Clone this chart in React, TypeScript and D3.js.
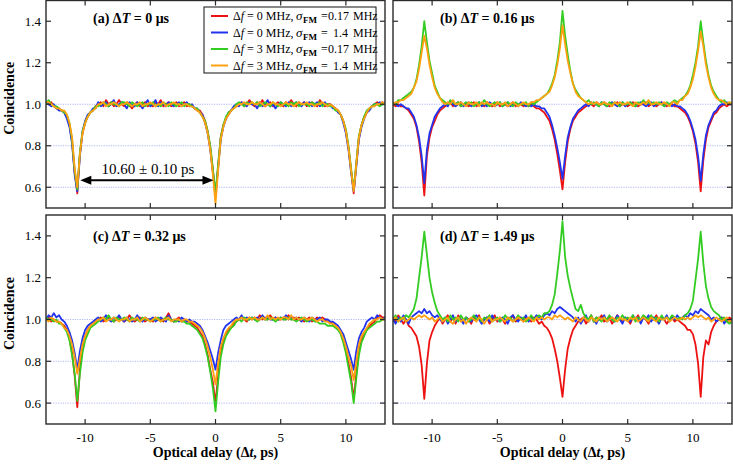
import React from 'react';
import * as d3 from 'd3';

const W = 733;
const H = 465;
const FONT = "'Liberation Serif', 'Times New Roman', serif";

// Optical delay grid (ps), 0.2 ps sampling from -13 to 13
const delay: number[] = d3.range(131).map((i) => +(-13 + 0.2 * i).toFixed(1));

const yTicks = [0.6, 0.8, 1.0, 1.2, 1.4];
const yTickLabels = ['0.6', '0.8', '1.0', '1.2', '1.4'];
const xTicks = [-10, -5, 0, 5, 10];
const xTickLabels = ['-10', '-5', '0', '5', '10'];
const gridValues = [0.6, 0.8, 1.0];

const seriesColors = ['#ee1111', '#2233ee', '#33cc22', '#ffa010'];
const legendDf = ['0', '0', '3', '3'];
const legendSigma = ['0.17', '1.4', '0.17', '1.4'];
const panelLetters = ['a', 'b', 'c', 'd'];
const panelDT = ['0', '0.16', '0.32', '1.49'];

// ---- panel (a) ΔT = 0 µs ----
const aRed = [
  1.01,1.00,1.01,0.99,0.98,0.98,0.97,0.96,0.94,0.90,
  0.82,0.67,0.57,0.76,0.86,0.91,0.94,0.96,0.97,0.99,
  1.00,1.01,0.99,1.02,1.00,1.01,0.99,1.00,1.02,1.00,
  0.99,1.01,1.00,0.98,1.00,1.01,0.99,1.00,1.01,0.99,
  1.00,0.99,1.01,1.00,1.02,0.99,1.00,1.01,0.99,1.00,
  1.01,0.99,1.00,1.01,0.99,1.00,0.99,0.98,0.97,0.97,
  0.95,0.92,0.87,0.79,0.68,0.55,0.70,0.84,0.90,0.93,
  0.95,0.97,0.98,0.99,1.00,1.01,0.99,1.00,1.02,1.00,
  0.99,1.01,1.00,1.02,0.99,1.00,1.01,0.99,1.00,1.01,
  1.00,0.99,1.01,1.00,1.02,1.00,0.99,1.01,1.00,1.01,
  0.99,1.00,1.01,1.00,0.99,1.02,1.00,0.99,1.00,1.00,
  0.99,0.98,0.97,0.95,0.92,0.87,0.79,0.68,0.57,0.71,
  0.84,0.90,0.94,0.96,0.98,0.99,1.00,1.01,1.00,1.01,
  1.00,
];
const aBlue = [
  1.01,1.00,0.99,1.00,0.98,0.97,0.97,0.96,0.93,0.89,
  0.81,0.66,0.58,0.75,0.87,0.92,0.95,0.96,0.98,0.98,
  1.01,0.99,1.00,1.01,0.99,1.00,1.02,0.99,1.00,1.01,
  1.00,0.98,1.01,1.00,0.99,1.01,1.00,0.98,1.00,1.02,
  0.99,1.00,1.02,0.99,1.01,1.00,0.99,1.01,1.00,0.99,
  1.00,1.01,0.99,1.00,1.01,0.99,1.00,0.98,0.98,0.96,
  0.95,0.91,0.86,0.78,0.67,0.57,0.69,0.83,0.89,0.93,
  0.96,0.97,0.99,1.00,0.99,1.01,1.00,0.99,1.01,1.00,
  1.00,0.98,1.01,0.99,1.00,1.02,0.99,1.00,0.98,1.00,
  1.01,1.00,0.99,1.01,0.99,1.00,1.01,1.00,0.99,1.01,
  1.00,1.01,0.99,1.00,1.01,0.99,1.00,1.01,0.99,1.00,
  0.98,0.98,0.96,0.95,0.91,0.86,0.78,0.67,0.58,0.70,
  0.83,0.89,0.93,0.96,0.97,0.99,1.00,1.00,1.01,1.00,
  1.01,
];
const aGreen = [
  1.00,1.02,1.00,0.99,0.99,0.98,0.97,0.96,0.95,0.91,
  0.83,0.68,0.59,0.77,0.87,0.91,0.94,0.96,0.97,0.99,
  0.99,1.00,1.01,1.00,0.99,1.01,1.00,1.00,0.99,1.01,
  1.01,1.00,0.99,1.01,1.00,0.99,1.00,1.01,0.99,1.00,
  1.00,1.01,0.99,1.00,0.99,1.01,1.00,0.99,1.01,1.00,
  0.99,1.00,1.01,0.99,1.00,1.00,0.99,0.98,0.98,0.96,
  0.94,0.92,0.87,0.80,0.69,0.57,0.71,0.84,0.90,0.94,
  0.96,0.97,0.98,1.00,1.01,1.00,0.99,1.01,1.00,1.01,
  1.00,1.01,0.99,1.00,1.01,1.00,0.99,1.01,1.00,0.99,
  1.01,1.00,1.00,0.99,1.01,1.00,1.01,0.99,1.00,1.00,
  1.00,0.99,1.01,1.00,1.00,1.01,0.99,1.00,1.00,0.99,
  0.99,0.97,0.97,0.95,0.92,0.88,0.80,0.69,0.59,0.72,
  0.85,0.90,0.94,0.97,0.98,0.99,1.00,1.00,0.99,1.00,
  1.00,
];
const aOrange = [
  1.01,1.01,1.00,0.99,0.98,0.98,0.97,0.97,0.95,0.91,
  0.84,0.69,0.60,0.76,0.86,0.91,0.94,0.96,0.97,0.98,
  1.00,1.00,1.01,0.99,1.00,1.00,1.01,1.00,0.99,1.00,
  1.00,1.01,1.00,0.99,1.00,1.00,1.01,0.99,1.00,1.00,
  1.01,1.00,0.99,1.00,1.00,1.01,0.99,1.00,1.00,1.01,
  1.00,1.00,0.99,1.00,1.00,0.99,0.99,0.98,0.97,0.96,
  0.94,0.91,0.86,0.78,0.66,0.52,0.68,0.83,0.89,0.93,
  0.95,0.97,0.98,0.99,1.00,1.00,1.01,1.00,1.00,1.01,
  1.00,1.00,1.01,1.00,0.99,1.00,1.00,1.01,1.00,1.00,
  0.99,1.00,1.01,1.00,1.00,0.99,1.00,1.01,1.00,1.00,
  1.01,1.00,1.00,0.99,1.00,1.00,1.01,1.00,0.99,1.00,
  0.99,0.98,0.97,0.95,0.92,0.87,0.79,0.68,0.58,0.71,
  0.84,0.90,0.93,0.96,0.98,0.99,0.99,1.00,1.00,1.01,
  1.00,
];

// ---- panel (b) ΔT = 0.16 µs ----
const bRed = [
  1.00,0.99,1.00,0.99,0.99,0.98,0.97,0.95,0.93,0.89,
  0.82,0.72,0.56,0.75,0.84,0.89,0.92,0.95,0.97,0.98,
  0.99,1.00,1.01,0.99,1.00,1.01,0.99,1.00,1.00,0.99,
  1.00,1.01,0.99,1.00,1.00,0.99,1.01,1.00,0.99,1.00,
  1.01,0.99,1.00,1.00,0.99,1.00,1.01,0.99,1.00,1.00,
  0.99,1.00,0.99,1.00,0.99,0.98,0.98,0.97,0.96,0.94,
  0.92,0.88,0.83,0.76,0.68,0.59,0.72,0.82,0.88,0.92,
  0.94,0.96,0.97,0.98,0.99,1.00,1.00,0.99,1.01,1.00,
  1.00,1.01,1.00,0.99,1.00,1.00,1.01,0.99,1.00,1.00,
  0.99,1.00,1.01,1.00,0.99,1.00,1.00,1.01,0.99,1.00,
  1.00,0.99,1.00,1.01,1.00,0.99,1.00,1.00,0.99,0.99,
  0.98,0.97,0.96,0.94,0.91,0.87,0.81,0.72,0.58,0.73,
  0.83,0.89,0.92,0.95,0.96,0.98,0.99,1.00,0.99,1.00,
  1.00,
];
const bBlue = [
  1.01,1.00,0.99,1.00,0.99,0.98,0.98,0.96,0.94,0.90,
  0.84,0.75,0.62,0.78,0.86,0.90,0.94,0.96,0.98,0.99,
  1.00,0.99,1.01,1.00,0.99,1.00,1.01,0.99,1.00,1.01,
  0.99,1.00,1.00,1.01,0.99,1.00,0.99,1.01,1.00,0.99,
  1.00,1.01,0.99,1.00,1.01,0.99,1.00,1.00,0.99,1.01,
  1.00,0.99,1.00,0.99,1.00,0.99,0.99,0.98,0.98,0.96,
  0.94,0.90,0.85,0.79,0.72,0.64,0.75,0.84,0.89,0.93,
  0.95,0.97,0.98,0.99,1.00,0.99,1.01,1.00,1.00,0.99,
  1.01,1.00,0.99,1.00,1.01,1.00,0.99,1.00,1.01,0.99,
  1.00,1.01,1.00,0.99,1.00,1.01,1.00,0.99,1.00,1.01,
  0.99,1.00,1.00,1.01,0.99,1.00,1.00,0.99,1.00,0.99,
  0.99,0.98,0.97,0.95,0.92,0.88,0.83,0.75,0.63,0.76,
  0.85,0.90,0.93,0.96,0.97,0.99,1.00,1.00,1.01,1.00,
  1.00,
];
const bGreen = [
  1.01,1.00,1.02,1.02,1.03,1.04,1.05,1.06,1.08,1.12,
  1.19,1.28,1.40,1.30,1.21,1.15,1.09,1.06,1.03,1.02,
  1.01,1.00,1.02,1.01,1.00,1.01,0.99,1.00,1.01,1.00,
  1.01,0.99,1.00,1.01,1.00,1.02,1.00,0.99,1.00,1.01,
  1.00,1.01,0.99,1.00,1.01,1.00,0.99,1.01,1.00,1.00,
  1.00,1.01,0.99,1.01,1.00,1.01,1.02,1.03,1.04,1.05,
  1.07,1.10,1.14,1.21,1.30,1.45,1.33,1.24,1.16,1.10,
  1.07,1.05,1.03,1.02,1.01,1.02,1.00,1.01,1.00,0.99,
  1.01,1.00,0.99,1.01,1.00,1.01,1.00,0.99,1.01,1.00,
  1.00,1.01,1.00,0.99,1.01,1.00,1.02,1.00,1.01,1.00,
  1.01,1.00,1.01,1.00,0.99,1.01,1.00,1.01,1.02,1.01,
  1.02,1.03,1.04,1.06,1.09,1.14,1.20,1.28,1.40,1.30,
  1.21,1.14,1.09,1.06,1.04,1.02,1.01,1.02,1.00,1.01,
  1.00,
];
const bOrange = [
  1.00,1.01,1.01,1.02,1.02,1.03,1.04,1.05,1.08,1.11,
  1.17,1.25,1.33,1.27,1.19,1.13,1.08,1.05,1.03,1.01,
  1.00,1.01,1.00,1.02,1.00,1.00,1.01,1.00,0.99,1.01,
  1.00,1.00,1.01,0.99,1.01,1.00,1.01,1.00,1.00,0.99,
  1.01,1.00,1.00,1.01,0.99,1.00,1.01,1.00,0.99,1.00,
  1.01,1.00,1.00,1.01,1.01,1.02,1.02,1.03,1.04,1.05,
  1.06,1.09,1.13,1.19,1.27,1.38,1.29,1.21,1.15,1.10,
  1.06,1.04,1.03,1.02,1.01,1.00,1.01,1.00,1.01,1.00,
  1.00,1.01,1.00,1.00,0.99,1.01,1.00,1.01,1.00,1.00,
  1.01,1.00,0.99,1.01,1.00,1.00,1.01,1.00,1.02,1.00,
  1.00,1.01,1.00,1.00,1.01,1.00,0.99,1.01,1.01,1.00,
  1.02,1.02,1.04,1.05,1.08,1.12,1.18,1.26,1.35,1.28,
  1.19,1.13,1.08,1.05,1.03,1.02,1.02,1.01,1.00,1.01,
  1.00,
];

// ---- panel (c) ΔT = 0.32 µs ----
const cRed = [
  1.00,1.01,0.99,1.00,0.99,0.99,0.98,0.97,0.95,0.91,
  0.84,0.73,0.58,0.76,0.87,0.92,0.95,0.97,0.98,0.99,
  1.00,1.01,0.99,1.00,1.01,1.00,0.99,1.00,1.01,1.00,
  0.99,1.00,1.02,1.00,0.99,1.00,1.01,1.00,0.99,1.00,
  1.00,0.99,1.01,1.00,1.00,0.99,1.01,1.03,1.00,0.99,
  1.00,1.01,0.99,1.00,0.99,0.99,0.98,0.97,0.96,0.94,
  0.92,0.88,0.83,0.76,0.70,0.60,0.73,0.85,0.90,0.93,
  0.95,0.96,0.98,0.99,1.00,1.01,1.00,0.99,1.01,1.00,
  1.01,1.00,1.02,1.00,1.01,1.00,1.02,1.00,1.01,1.00,
  1.00,1.01,1.00,1.02,1.00,1.01,1.00,1.01,1.00,0.99,
  1.00,1.01,0.99,1.00,1.01,1.00,1.01,1.00,0.99,0.99,
  0.98,0.97,0.96,0.94,0.90,0.85,0.79,0.72,0.62,0.74,
  0.85,0.90,0.93,0.95,0.97,0.98,0.99,1.01,1.02,1.01,
  1.01,
];
const cBlue = [
  1.00,1.02,1.01,1.03,1.01,1.02,1.00,0.99,0.97,0.94,
  0.90,0.84,0.76,0.85,0.91,0.95,0.97,0.98,0.99,1.00,
  1.01,0.99,1.00,1.02,1.00,0.99,1.01,1.00,1.02,1.00,
  0.99,1.01,1.00,0.99,1.00,1.02,1.00,0.99,1.01,1.00,
  1.00,1.01,0.99,1.00,1.01,1.00,0.99,1.02,1.00,0.99,
  1.00,0.99,1.01,1.00,0.99,1.00,0.99,0.99,0.98,0.97,
  0.95,0.92,0.89,0.85,0.81,0.76,0.84,0.90,0.95,0.97,
  0.98,0.99,1.00,1.01,1.00,1.02,1.00,1.01,1.00,1.01,
  1.00,1.01,1.00,1.02,1.00,1.01,1.00,1.00,1.01,1.00,
  1.01,1.00,1.02,1.00,1.01,1.00,1.01,1.00,0.99,1.01,
  1.00,0.99,1.01,1.00,1.00,1.01,0.99,1.00,1.00,0.99,
  0.99,0.98,0.97,0.95,0.93,0.89,0.85,0.81,0.76,0.85,
  0.91,0.94,0.96,0.99,1.00,1.01,1.00,1.02,1.01,1.00,
  1.01,
];
const cGreen = [
  1.01,1.00,1.00,0.99,1.00,0.98,0.98,0.96,0.94,0.90,
  0.83,0.74,0.61,0.74,0.84,0.90,0.93,0.96,0.97,0.98,
  0.99,1.00,1.01,1.00,1.02,1.00,0.99,1.01,1.00,1.00,
  1.01,1.00,0.99,1.01,1.00,1.00,0.99,1.01,1.00,1.00,
  0.99,1.00,1.00,1.01,0.99,1.00,1.01,1.00,1.00,0.99,
  0.99,1.00,0.99,0.99,0.98,0.98,0.97,0.96,0.95,0.93,
  0.91,0.87,0.82,0.75,0.67,0.56,0.70,0.82,0.88,0.92,
  0.94,0.96,0.97,0.99,1.00,0.99,1.01,1.00,1.00,1.01,
  1.00,0.99,1.00,1.01,1.00,1.00,1.01,1.00,0.99,1.00,
  1.01,1.00,1.00,1.01,1.00,1.00,0.99,1.00,1.01,1.00,
  0.99,1.00,1.00,0.99,0.99,0.98,0.98,0.98,0.97,0.97,
  0.97,0.96,0.95,0.93,0.89,0.84,0.77,0.70,0.60,0.72,
  0.83,0.89,0.92,0.95,0.96,0.97,0.98,0.99,0.99,1.00,
  1.00,
];
const cOrange = [
  1.00,0.99,1.01,1.00,0.99,0.99,0.98,0.96,0.95,0.92,
  0.88,0.82,0.74,0.81,0.88,0.92,0.95,0.97,0.98,0.99,
  1.00,1.00,1.01,0.99,1.00,1.00,1.01,1.00,0.99,1.00,
  1.00,1.01,0.99,1.00,1.00,1.01,0.99,1.00,1.01,1.00,
  0.99,1.00,1.01,1.00,0.99,1.00,1.00,1.01,0.99,1.00,
  1.00,1.00,0.99,1.00,1.00,0.99,0.99,0.98,0.97,0.96,
  0.94,0.91,0.87,0.82,0.76,0.69,0.79,0.87,0.91,0.94,
  0.96,0.97,0.99,1.00,1.00,1.01,1.00,1.00,1.01,1.00,
  1.01,1.00,1.00,1.01,1.00,1.02,1.00,1.01,1.00,1.01,
  1.00,1.01,1.01,1.00,1.02,1.00,1.01,1.00,1.00,1.01,
  1.00,1.00,1.01,1.00,0.99,1.00,1.00,0.99,0.99,0.98,
  0.98,0.97,0.96,0.94,0.91,0.87,0.82,0.78,0.71,0.80,
  0.88,0.92,0.94,0.96,0.98,0.99,1.00,1.00,1.01,1.00,
  1.00,
];

// ---- panel (d) ΔT = 1.49 µs ----
const dRed = [
  1.01,0.99,1.02,1.00,0.98,1.00,0.97,0.96,0.94,0.92,
  0.87,0.78,0.62,0.79,0.90,0.94,0.97,0.99,1.01,0.98,
  1.00,1.02,0.99,1.01,0.98,1.02,1.00,0.99,1.01,1.00,
  0.98,1.01,1.00,1.02,0.99,1.00,1.01,0.98,1.00,1.02,
  0.99,1.01,1.00,0.98,1.01,1.00,1.02,0.99,1.00,1.01,
  0.99,1.01,1.00,0.99,1.01,1.00,0.98,0.99,0.97,0.96,
  0.94,0.91,0.86,0.80,0.72,0.63,0.76,0.86,0.91,0.95,
  0.97,0.99,1.00,1.01,0.98,1.00,1.02,0.99,1.01,1.00,
  1.02,0.99,1.00,1.01,0.98,1.00,1.02,1.00,0.99,1.01,
  1.00,0.98,1.01,1.00,1.02,0.99,1.01,1.00,0.98,1.01,
  1.00,1.02,0.99,1.01,1.00,0.98,1.00,1.01,0.99,1.00,
  0.99,0.98,0.97,0.95,0.95,0.93,0.88,0.79,0.63,0.82,
  0.90,0.88,0.94,0.97,0.99,1.00,1.01,1.00,0.99,1.01,
  1.00,
];
const dBlue = [
  1.00,0.98,1.01,0.99,1.02,1.00,0.98,1.01,1.02,1.03,
  1.04,1.03,1.05,1.03,1.04,1.02,1.01,1.02,1.00,0.99,
  1.01,0.98,1.00,1.02,0.99,1.01,1.00,0.98,1.01,1.00,
  0.99,1.01,1.02,1.00,0.98,1.00,1.01,0.99,1.02,1.00,
  1.00,0.99,1.01,1.00,0.98,1.01,1.02,1.00,0.99,1.01,
  1.00,1.02,0.99,1.01,1.00,1.02,1.01,1.00,1.02,1.03,
  1.02,1.04,1.03,1.05,1.06,1.05,1.04,1.03,1.02,1.01,
  0.99,1.01,0.98,1.00,1.02,0.99,1.01,1.00,0.98,1.01,
  1.00,1.02,0.99,1.00,1.01,0.99,1.02,1.00,0.98,1.01,
  1.00,0.99,1.02,1.00,1.01,0.98,1.01,1.00,1.02,0.99,
  1.01,1.00,0.98,1.01,1.00,1.02,0.99,1.01,1.00,1.02,
  1.00,1.01,1.02,1.01,1.03,1.02,1.04,1.03,1.05,1.04,
  1.03,1.02,1.00,1.01,0.99,1.00,1.01,0.98,1.00,0.99,
  1.00,
];
const dGreen = [
  1.00,1.02,0.99,1.01,1.00,1.02,1.01,1.03,1.05,1.10,
  1.20,1.30,1.42,1.31,1.20,1.13,1.08,1.04,1.02,1.00,
  1.01,0.99,1.02,1.00,1.01,0.99,1.02,1.00,1.01,0.99,
  1.00,1.02,1.00,1.01,0.99,1.01,1.00,1.02,0.99,1.00,
  1.01,0.99,1.00,1.02,1.00,1.01,0.99,1.00,1.02,1.00,
  1.01,0.99,1.00,1.02,1.00,1.01,1.02,1.01,1.03,1.03,
  1.04,1.07,1.12,1.22,1.33,1.47,1.30,1.21,1.15,1.10,
  1.05,1.04,1.07,1.03,1.01,1.00,1.02,0.99,1.01,1.00,
  0.99,1.01,1.00,1.02,1.00,0.99,1.01,1.00,1.02,1.00,
  1.01,1.00,1.02,0.99,1.01,1.00,1.02,1.01,1.00,1.02,
  1.00,1.01,0.99,1.02,1.00,1.01,1.00,1.02,1.01,1.00,
  1.01,1.00,1.02,1.03,1.05,1.09,1.19,1.29,1.42,1.27,
  1.16,1.10,1.06,1.04,1.03,1.02,1.00,1.01,0.99,0.98,
  0.99,
];
const dOrange = [
  1.00,1.01,0.99,1.00,1.01,0.99,1.00,1.01,1.00,1.01,
  1.02,1.01,1.02,1.01,1.00,1.01,0.99,1.00,1.01,0.99,
  1.00,1.01,0.99,0.98,1.00,1.01,0.99,1.00,0.98,1.00,
  1.01,1.00,0.99,1.01,1.00,0.98,1.00,1.01,0.99,1.00,
  1.00,1.01,1.00,0.99,1.01,1.00,0.99,1.00,1.01,1.00,
  0.99,1.00,1.01,1.00,0.99,1.01,1.00,1.01,1.00,1.01,
  1.01,1.00,1.02,1.01,1.02,1.01,1.00,1.01,1.00,0.99,
  1.01,1.00,0.99,1.01,1.00,0.99,1.01,1.00,0.99,1.01,
  1.00,1.01,0.99,1.00,1.01,1.00,0.99,1.01,1.00,1.00,
  0.99,1.01,1.00,1.01,0.99,1.00,1.01,1.00,0.99,1.01,
  1.00,0.99,1.01,1.00,1.00,1.01,0.99,1.00,1.01,1.00,
  1.00,1.01,1.00,1.01,1.00,1.01,1.02,1.01,1.02,1.01,
  1.00,1.01,0.99,1.00,1.01,1.00,0.99,1.00,1.01,0.99,
  1.00,
];

const panelSeries = [
  [aRed, aBlue, aGreen, aOrange],
  [bRed, bBlue, bGreen, bOrange],
  [cRed, cBlue, cGreen, cOrange],
  [dRed, dBlue, dGreen, dOrange],
];

// layout (pixels)
const colX = [
  [46, 385],
  [393, 732],
];
const rowY = [
  [0.5, 208],
  [215, 424],
];

const AXIS = '#2a2a2a';

function Panel({ idx }: { idx: number }) {
  const col = idx % 2;
  const row = Math.floor(idx / 2);
  const [x0, x1] = colX[col];
  const [y0, y1] = rowY[row];
  const x = d3.scaleLinear().domain([-13, 13]).range([x0, x1]);
  const y = d3.scaleLinear().domain([0.5, 1.5]).range([y1, y0]);
  const line = d3
    .line<number>()
    .x((_, i) => x(delay[i]))
    .y((d) => y(d));
  const clipId = `clip-${idx}`;
  const tl = 5;
  const titleY = row === 0 ? 23 : 241;
  const titleX = col === 0 ? 93 : 440;
  return (
    <g>
      <defs>
        <clipPath id={clipId}>
          <rect x={x0} y={y0} width={x1 - x0} height={y1 - y0} />
        </clipPath>
      </defs>
      {gridValues.map((g) => (
        <line
          key={g}
          x1={x0}
          x2={x1}
          y1={y(g)}
          y2={y(g)}
          stroke="#9ea4f2"
          strokeWidth={0.8}
          strokeDasharray="1.2,1.2"
        />
      ))}
      <g clipPath={`url(#${clipId})`}>
        {panelSeries[idx].map((s, k) => (
          <path
            key={k}
            d={line(s.slice(0, delay.length)) || ''}
            fill="none"
            stroke={seriesColors[k]}
            strokeWidth={1.8}
            strokeLinejoin="round"
          />
        ))}
      </g>
      <rect
        x={x0}
        y={y0}
        width={x1 - x0}
        height={y1 - y0}
        fill="none"
        stroke={AXIS}
        strokeWidth={1.4}
      />
      {yTicks.map((t) => (
        <g key={'y' + t}>
          <line x1={x0} x2={x0 + tl} y1={y(t)} y2={y(t)} stroke={AXIS} strokeWidth={1.2} />
          <line x1={x1} x2={x1 - tl} y1={y(t)} y2={y(t)} stroke={AXIS} strokeWidth={1.2} />
        </g>
      ))}
      {xTicks.map((t) => (
        <g key={'x' + t}>
          <line x1={x(t)} x2={x(t)} y1={y1} y2={y1 - tl} stroke={AXIS} strokeWidth={1.2} />
          <line x1={x(t)} x2={x(t)} y1={y0} y2={y0 + tl} stroke={AXIS} strokeWidth={1.2} />
        </g>
      ))}
      {col === 0 &&
        yTicks.map((t, i) => (
          <text
            key={'yl' + t}
            x={x0 - 5}
            y={y(t) + 4.5}
            textAnchor="end"
            fontSize={13}
            fontFamily={FONT}
          >
            {yTickLabels[i]}
          </text>
        ))}
      {col === 0 && (
        <text
          transform={`translate(14,${(y0 + y1) / 2 - 6}) rotate(-90)`}
          textAnchor="middle"
          fontSize={14}
          fontWeight="bold"
          fontFamily={FONT}
        >
          Coincidence
        </text>
      )}
      {row === 1 &&
        xTicks.map((t, i) => (
          <text
            key={'xl' + t}
            x={x(t)}
            y={442}
            textAnchor="middle"
            fontSize={13}
            fontFamily={FONT}
          >
            {xTickLabels[i]}
          </text>
        ))}
      {row === 1 && (
        <text
          x={(x0 + x1) / 2}
          y={457}
          textAnchor="middle"
          fontSize={14}
          fontWeight="bold"
          fontFamily={FONT}
        >
          Optical delay (Δ<tspan fontStyle="italic">t</tspan>, ps)
        </text>
      )}
      <text x={titleX} y={titleY} fontSize={14} fontWeight="bold" fontFamily={FONT}>
        ({panelLetters[idx]}) Δ<tspan fontStyle="italic">T</tspan> = {panelDT[idx]} μs
      </text>
    </g>
  );
}

function Legend() {
  const bx = 204;
  const by = 7;
  const bw = 172;
  const bh = 66;
  const rowYs = [16, 32.5, 49, 65.5];
  return (
    <g fontFamily={FONT} fontSize={12}>
      <rect x={bx} y={by} width={bw} height={bh} fill="#fff" stroke="#111" strokeWidth={1} />
      {seriesColors.map((c, i) => {
        const yy = rowYs[i];
        const isShort = legendSigma[i].length < 4;
        return (
          <g key={i}>
            <line x1={211} x2={228} y1={yy} y2={yy} stroke={c} strokeWidth={2} />
            <text x={233} y={yy + 4}>
              Δ<tspan fontStyle="italic">f</tspan> = {legendDf[i]} MHz,
            </text>
            <text x={296} y={yy + 4} fontStyle="italic" fontSize={13}>
              σ
            </text>
            <text x={303} y={yy + 7} fontSize={9} fontWeight="bold">
              FM
            </text>
            <text x={321} y={yy + 4}>
              =
            </text>
            <text x={isShort ? 333 : 328} y={yy + 4}>
              {legendSigma[i]}
            </text>
            <text x={353} y={yy + 4}>
              MHz
            </text>
          </g>
        );
      })}
    </g>
  );
}

function Annotation() {
  const x = d3.scaleLinear().domain([-13, 13]).range(colX[0]);
  const y = d3.scaleLinear().domain([0.5, 1.5]).range([rowY[0][1], rowY[0][0]]);
  const ax0 = x(-10.6) + 3;
  const ax1 = x(0) - 2;
  const ay = y(0.6) - 7;
  const ah = 11;
  const aw = 4.5;
  return (
    <g>
      <line x1={ax0 + ah - 1} x2={ax1 - ah + 1} y1={ay} y2={ay} stroke="#000" strokeWidth={2} />
      <path d={`M${ax0},${ay} L${ax0 + ah},${ay - aw} L${ax0 + ah},${ay + aw} Z`} fill="#000" />
      <path d={`M${ax1},${ay} L${ax1 - ah},${ay - aw} L${ax1 - ah},${ay + aw} Z`} fill="#000" />
      <text x={(ax0 + ax1) / 2 + 1} y={ay - 6} textAnchor="middle" fontSize={15} fontFamily={FONT}>
        10.60 ± 0.10 ps
      </text>
    </g>
  );
}

export default function App() {
  return (
    <svg
      width={W}
      height={H}
      viewBox={`0 0 ${W} ${H}`}
      style={{ position: 'absolute', left: 0, top: 0, background: '#fff', display: 'block' }}
    >
      <rect x={0} y={0} width={W} height={H} fill="#fff" />
      {[0, 1, 2, 3].map((i) => (
        <Panel key={i} idx={i} />
      ))}
      <Annotation />
      <Legend />
    </svg>
  );
}
